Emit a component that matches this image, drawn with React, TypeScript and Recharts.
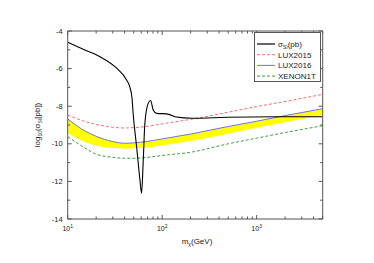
import { ComposedChart, Line, Area, XAxis, YAxis, Legend } from 'recharts'

// masses in GeV, values are log10(sigma/pb)
const sigmaMass = [10, 15, 22, 33, 42, 45.6, 48, 49.3, 53.6, 58.1, 60.5, 62.9, 65.6, 71.1, 75.4, 80.3, 87.3, 111, 131, 136, 211, 483, 1630, 5000]
const sigmaVal = [-4.6, -5.0, -5.37, -5.98, -6.6, -7.0, -7.6, -8.4, -10.15, -11.9, -12.63, -11.0, -8.9, -7.85, -7.7, -8.2, -8.38, -8.41, -8.52, -8.56, -8.64, -8.59, -8.56, -8.56]

const limitMass = [10, 15, 20, 30, 40, 50, 70, 100, 200, 500, 1000, 2000, 5000]
const lux2015 = [-8.47, -8.8, -8.97, -9.12, -9.16, -9.14, -9.07, -8.94, -8.7, -8.32, -8.02, -7.75, -7.37]
const lux2016 = [-8.68, -9.3, -9.6, -9.88, -9.97, -9.95, -9.87, -9.74, -9.48, -9.08, -8.8, -8.5, -8.13]
const bandLow = [-9.44, -9.9, -10.1, -10.22, -10.25, -10.24, -10.2, -10.08, -9.85, -9.45, -9.15, -8.85, -8.47]
const xenon1t = [-9.62, -10.2, -10.55, -10.72, -10.77, -10.77, -10.72, -10.62, -10.45, -10.0, -9.7, -9.4, -9.04]

const xTicks = [10, 20, 30, 40, 50, 60, 70, 80, 90, 100, 200, 300, 400, 500, 600, 700, 800, 900, 1000, 2000, 3000, 4000, 5000]
const xMajor = [10, 100, 1000]
const yTicks = [-14, -13, -12, -11, -10, -9, -8, -7, -6, -5, -4]
const yMajor = [-14, -12, -10, -8, -6, -4]

const sigmaData = sigmaMass.map((m, i) => ({ m, v: sigmaVal[i] }))
const lux15Data = limitMass.map((m, i) => ({ m, v: lux2015[i] }))
const lux16Data = limitMass.map((m, i) => ({ m, v: lux2016[i] }))
const bandData = limitMass.map((m, i) => ({ m, band: [bandLow[i], lux2016[i]] }))
const xenonData = limitMass.map((m, i) => ({ m, v: xenon1t[i] }))

const axisColor = '#555'
const font = 'Liberation Sans, Arial, sans-serif'

const BottomTick = (props: any) => {
  const { x, y, payload } = props
  const major = xMajor.includes(payload.value)
  return (
    <g>
      <line x1={x} x2={x} y1={y} y2={y - (major ? 4 : 2.5)} stroke={axisColor} />
      {major && (
        <text x={x} y={y + 12} textAnchor="middle" fontSize={7} fill="#222" fontFamily={font}>
          10<tspan dy={-3} fontSize={5}>{Math.round(Math.log10(payload.value))}</tspan>
        </text>
      )}
    </g>
  )
}

const TopTick = (props: any) => {
  const { x, y, payload } = props
  const major = xMajor.includes(payload.value)
  return <line x1={x} x2={x} y1={y} y2={y + (major ? 4 : 2.5)} stroke={axisColor} />
}

const LeftTick = (props: any) => {
  const { x, y, payload } = props
  const major = yMajor.includes(payload.value)
  return (
    <g>
      <line x1={x} x2={x + (major ? 4 : 2.5)} y1={y} y2={y} stroke={axisColor} />
      {major && (
        <text x={x - 5} y={y + 2.5} textAnchor="end" fontSize={7.5} fill="#222" fontFamily={font}>
          {payload.value}
        </text>
      )}
    </g>
  )
}

const RightTick = (props: any) => {
  const { x, y, payload } = props
  const major = yMajor.includes(payload.value)
  return <line x1={x} x2={x - (major ? 4 : 2.5)} y1={y} y2={y} stroke={axisColor} />
}

const legendItems = [
  { key: 'sigma', color: '#000', dash: undefined },
  { key: 'LUX2015', color: '#f07070', dash: '3 2' },
  { key: 'LUX2016', color: '#7070e8', dash: undefined },
  { key: 'XENON1T', color: '#40a040', dash: '3 2' }
]

const renderLegend = () => (
  <svg width={67} height={50} style={{ display: 'block' }}>
    <rect x={0.5} y={0.5} width={66} height={49} fill="#fff" stroke={axisColor} />
    {legendItems.map((item, i) => {
      const cy = 12 + i * 10.7
      return (
        <g key={item.key}>
          <line x1={3} x2={21} y1={cy} y2={cy} stroke={item.color} strokeWidth={item.key === 'sigma' ? 1.2 : 1} strokeDasharray={item.dash} />
          <text x={24} y={cy + 3} fontSize={8} fill="#222" fontFamily={font}>
            {item.key === 'sigma' ? (
              <>
                σ<tspan dy={2} fontSize={5}>SI</tspan>
                <tspan dy={-2}>(pb)</tspan>
              </>
            ) : (
              item.key
            )}
          </text>
        </g>
      )
    })}
  </svg>
)

const axisCommon = {
  allowDataOverflow: true,
  interval: 0 as const,
  tickSize: 0,
  tickMargin: 0,
  tickLine: false,
  stroke: axisColor
}

export default function App() {
  return (
    <div style={{ position: 'absolute', left: 0, top: 0, width: 374, height: 263, background: '#fff' }}>
      <ComposedChart width={374} height={263} margin={{ top: 30, right: 50.3, bottom: 43, left: 66.7 }}>
        <XAxis xAxisId="b" dataKey="m" type="number" scale="log" domain={[10, 5000]} ticks={xTicks} height={1} tick={<BottomTick />} {...axisCommon} />
        <XAxis xAxisId="t" orientation="top" dataKey="m" type="number" scale="log" domain={[10, 5000]} ticks={xTicks} height={1} tick={<TopTick />} {...axisCommon} />
        <YAxis yAxisId="l" type="number" domain={[-14, -4]} ticks={yTicks} width={1} tick={<LeftTick />} {...axisCommon} />
        <YAxis yAxisId="r" orientation="right" type="number" domain={[-14, -4]} ticks={yTicks} width={1} tick={<RightTick />} {...axisCommon} />
        <Area
          xAxisId="b"
          yAxisId="l"
          data={bandData}
          dataKey="band"
          type="monotone"
          fill="#ffff00"
          fillOpacity={1}
          stroke="none"
          isAnimationActive={false}
        />
        <Line xAxisId="b" yAxisId="l" data={lux15Data} dataKey="v" type="monotone" stroke="#f07070" strokeWidth={1} strokeDasharray="3 2" dot={false} isAnimationActive={false} />
        <Line xAxisId="b" yAxisId="l" data={lux16Data} dataKey="v" type="monotone" stroke="#7070e8" strokeWidth={1} dot={false} isAnimationActive={false} />
        <Line xAxisId="b" yAxisId="l" data={xenonData} dataKey="v" type="monotone" stroke="#40a040" strokeWidth={1} strokeDasharray="3 2" dot={false} isAnimationActive={false} />
        <Line xAxisId="b" yAxisId="l" data={sigmaData} dataKey="v" type="monotone" stroke="#000" strokeWidth={1.1} dot={false} isAnimationActive={false} />
        <Legend
          layout="vertical"
          align="center"
          verticalAlign="middle"
          content={renderLegend}
          wrapperStyle={{ position: 'absolute', left: 254, top: 32, width: 67, height: 50 }}
        />
      </ComposedChart>
      <svg width={374} height={263} style={{ position: 'absolute', left: 0, top: 0, pointerEvents: 'none' }}>
        <text transform="translate(40,125) rotate(-90)" textAnchor="middle" fontSize={8} fill="#222" fontFamily={font}>
          log<tspan dy={2} fontSize={5}>10</tspan>
          <tspan dy={-2}>(σ</tspan>
          <tspan dy={2} fontSize={5}>SI</tspan>
          <tspan dy={-2}>[pb])</tspan>
        </text>
        <text x={197} y={244} textAnchor="middle" fontSize={8} fill="#222" fontFamily={font}>
          m<tspan dy={2} fontSize={5}>χ</tspan>
          <tspan dy={-2}>(GeV)</tspan>
        </text>
      </svg>
    </div>
  )
}
